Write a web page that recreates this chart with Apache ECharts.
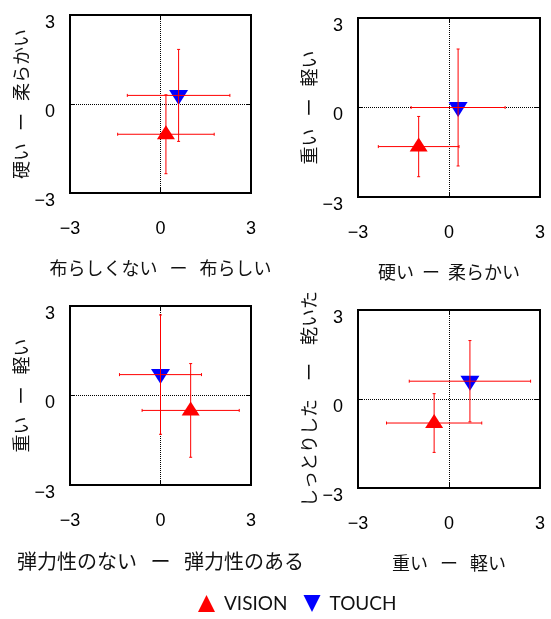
<!DOCTYPE html>
<html>
<head>
<meta charset="utf-8">
<script src="https://cdn.jsdelivr.net/npm/echarts@6/dist/echarts.min.js"></script>
<style>
html,body{margin:0;padding:0;background:#fff;}
#c{width:551px;height:619px;}
</style>
</head>
<body>
<div id="c"></div>
<script>
// ---- data ----
const xNames = ['布らしくない   ー   布らしい', '硬い  ー  柔らかい', '弾力性のない   ー   弾力性のある', '重い   ー   軽い'];
const yNames = ['硬い   ー   柔らかい', '重い   ー   軽い', '重い   ー   軽い', 'しっとりした　ー　乾いた'];
const xNameSizes = [18, 18, 20, 18];
const tickValues = [-3, 0, 3];
const visionX    = [0.18, -1.00, 1.00, -0.49];
const visionY    = [-1.02, -1.31, -0.50, -0.81];
const visionXErr = [1.60, 1.33, 1.61, 1.57];
const visionYErr = [1.33, 1.01, 1.57, 0.99];
const touchX     = [0.60, 0.30, 0.00, 0.69];
const touchY     = [0.29, 0.00, 0.70, 0.60];
const touchXErr  = [1.70, 1.55, 1.36, 2.00];
const touchYErr  = [1.55, 1.96, 2.00, 1.37];
const legendNames = ['VISION', 'TOUCH'];

// ---- layout ----
const grids = [
  {left: 70,  top: 15,  width: 181, height: 178},
  {left: 358, top: 18,  width: 182, height: 179},
  {left: 70,  top: 306, width: 181, height: 179},
  {left: 358, top: 310, width: 182, height: 178}
];
const TRI_UP = 'path://M1,0 L2,2 L0,2 Z';
const TRI_DOWN = 'path://M0,0 L2,0 L1,2 Z';
const fmt = v => (v < 0 ? '\u2212' + Math.abs(v) : String(v));
const AXMIN = tickValues[0], AXMAX = tickValues[tickValues.length - 1], AXINT = tickValues[1] - tickValues[0];

const xAxis = [], yAxis = [], series = [];
grids.forEach((g, i) => {
  const common = {
    type: 'value', min: AXMIN, max: AXMAX, interval: AXINT, gridIndex: i,
    axisLine: {show: false, onZero: false},
    axisTick: {show: true, inside: true, length: 5, lineStyle: {color: '#000', width: 1}},
    splitLine: {show: true, lineStyle: {type: 'dotted', color: '#000', width: 1}}
  };
  xAxis.push(Object.assign({}, common, {
    position: 'bottom',
    axisLabel: {margin: 27, formatter: fmt, color: '#000', fontFamily: 'Liberation Sans', fontSize: 18},
    name: xNames[i], nameLocation: 'middle', nameGap: 66,
    nameTextStyle: {fontFamily: 'Noto Sans CJK JP', fontSize: xNameSizes[i], color: '#111'}
  }));
  yAxis.push(Object.assign({}, common, {
    position: 'left',
    axisLabel: {margin: 15, formatter: fmt, color: '#000', fontFamily: 'Liberation Sans', fontSize: 18,
      verticalAlign: 'top', lineHeight: 16},
    name: yNames[i], nameLocation: 'middle', nameGap: 40,
    nameTextStyle: {fontFamily: 'Noto Sans CJK JP', fontSize: 18, color: '#111'}
  }));
});
// top / right axes (ticks only)
grids.forEach((g, i) => {
  xAxis.push({type: 'value', min: AXMIN, max: AXMAX, interval: AXINT, gridIndex: i, position: 'top',
    axisLine: {show: false, onZero: false}, axisLabel: {show: false}, splitLine: {show: false},
    axisTick: {show: true, inside: true, length: 5, lineStyle: {color: '#000'}}});
  yAxis.push({type: 'value', min: AXMIN, max: AXMAX, interval: AXINT, gridIndex: i, position: 'right',
    axisLine: {show: false, onZero: false}, axisLabel: {show: false}, splitLine: {show: false},
    axisTick: {show: true, inside: true, length: 5, lineStyle: {color: '#000'}}});
});

function renderErr(params, api) {
  const x = api.value(0), y = api.value(1), ex = api.value(2), ey = api.value(3);
  const a = api.coord([x - ex, y]), b = api.coord([x + ex, y]);
  const c = api.coord([x, y - ey]), d = api.coord([x, y + ey]);
  const k = 1.5;
  const st = {stroke: '#ff0000', lineWidth: 1, fill: null};
  const ln = (x1, y1, x2, y2) => ({type: 'line', shape: {x1, y1, x2, y2}, style: st});
  return {type: 'group', children: [
    ln(a[0], a[1], b[0], b[1]),
    ln(c[0], c[1], d[0], d[1]),
    ln(a[0], a[1] - k, a[0], a[1] + k),
    ln(b[0], b[1] - k, b[0], b[1] + k),
    ln(c[0] - k, c[1], c[0] + k, c[1]),
    ln(d[0] - k, d[1], d[0] + k, d[1])
  ]};
}

for (let i = 0; i < 4; i++) {
  series.push({
    name: 'VISION', type: 'scatter', xAxisIndex: i, yAxisIndex: i,
    symbol: TRI_UP, symbolSize: [18, 14], symbolOffset: [0, -2],
    itemStyle: {color: '#ff0000', opacity: 1}, z: 2,
    data: [[visionX[i], visionY[i]]]
  });
  series.push({
    name: 'TOUCH', type: 'scatter', xAxisIndex: i, yAxisIndex: i,
    symbol: TRI_DOWN, symbolSize: [19, 15], symbolOffset: [0, 2],
    itemStyle: {color: '#0000ff', opacity: 1}, z: 2,
    data: [[touchX[i], touchY[i]]]
  });
  series.push({
    name: 'errV', type: 'custom', xAxisIndex: i, yAxisIndex: i, z: 5,
    renderItem: renderErr, silent: true,
    data: [[visionX[i], visionY[i], visionXErr[i], visionYErr[i]]]
  });
  series.push({
    name: 'errT', type: 'custom', xAxisIndex: i, yAxisIndex: i, z: 5,
    renderItem: renderErr, silent: true,
    data: [[touchX[i], touchY[i], touchXErr[i], touchYErr[i]]]
  });
}

const chart = echarts.init(document.getElementById('c'), null, {renderer: 'canvas'});
chart.setOption({
  animation: false,
  backgroundColor: '#fff',
  grid: grids.map(g => Object.assign({show: true, borderColor: '#000', borderWidth: 2, backgroundColor: 'transparent', containLabel: false}, g)),
  xAxis, yAxis,
  legend: {
    left: 198, top: 594, padding: 0, itemWidth: 21, itemHeight: 17, itemGap: 16,
    data: [{name: legendNames[0], icon: TRI_UP}, {name: legendNames[1], icon: TRI_DOWN}],
    textStyle: {fontFamily: 'Lato', fontSize: 19, color: '#111', padding: [0, 0, 0, 2]}
  },
  series
});
</script>
</body>
</html>
